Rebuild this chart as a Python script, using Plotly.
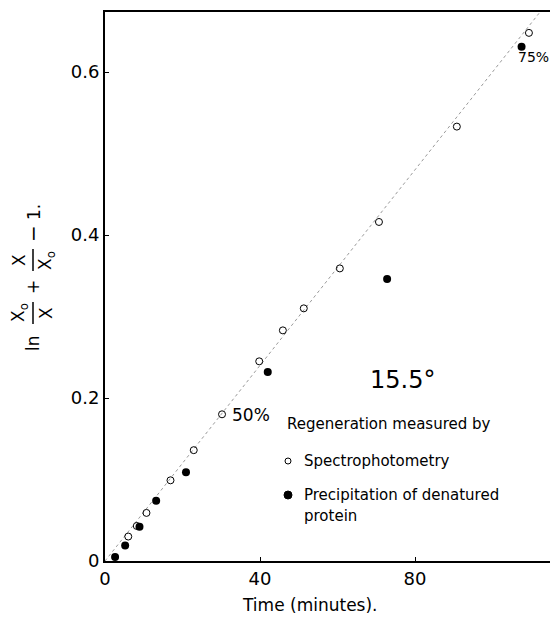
import plotly.graph_objects as go

# ---- data ----
spec_t = [6.0, 8.2, 10.7, 16.9, 22.9, 30.2, 39.8, 45.9, 51.3, 60.6, 70.7, 90.8, 109.4]
spec_y = [0.030, 0.043, 0.059, 0.099, 0.136, 0.180, 0.245, 0.283, 0.310, 0.359, 0.416, 0.533, 0.648]

precip_t = [2.6, 5.2, 8.9, 13.2, 20.9, 42.0, 72.8, 107.5]
precip_y = [0.005, 0.019, 0.042, 0.074, 0.109, 0.232, 0.346, 0.631]

line_t = [0, 112]
line_y = [0, 0.672]

x_ticks = [0, 40, 80]
x_tick_labels = ["0", "40", "80"]
y_ticks = [0, 0.2, 0.4, 0.6]
y_tick_labels = ["0", "0.2", "0.4", "0.6"]

FONT = "DejaVu Sans"

# plot-area geometry in pixels (for paper-coordinate text placement)
L, R, T, B = 105, 550, 12, 561
W, H = 550, 620


def px(x):
    return (x - L) / (R - L)


def py(y):
    return (B - y) / (B - T)


fig = go.Figure()
fig.add_trace(go.Scatter(x=line_t, y=line_y, mode="lines",
                         line=dict(color="#9a9a9a", width=1, dash="dot"),
                         showlegend=False, hoverinfo="skip"))
fig.add_trace(go.Scatter(x=spec_t, y=spec_y, mode="markers", name="Spectrophotometry",
                         marker=dict(symbol="circle-open", size=7, color="black",
                                     line=dict(width=1, color="black")),
                         showlegend=False))
fig.add_trace(go.Scatter(x=precip_t, y=precip_y, mode="markers",
                         name="Precipitation of denatured protein",
                         marker=dict(symbol="circle", size=8, color="black"),
                         showlegend=False))

ann = []


def text(x, y, s, size=16, xanchor="left", angle=0):
    ann.append(dict(x=px(x), y=py(y), xref="paper", yref="paper", text=s,
                    showarrow=False, xanchor=xanchor, yanchor="middle",
                    textangle=angle, font=dict(family=FONT, size=size, color="black")))


text(368, 380, "15.5°", size=24)
text(230, 415, "50%", size=17)
text(516, 57, "75%", size=14)
text(285, 424, "Regeneration measured by", size=15)
text(302, 461, "Spectrophotometry", size=15)
text(302, 495, "Precipitation of denatured", size=15)
text(302, 516, "protein", size=15)
text(310, 605, "Time (minutes).", size=17, xanchor="center")

# rotated y-axis label: ln X0/X + X/X0 - 1.
text(33, 343, "ln", size=17, xanchor="center", angle=-90)
text(19, 313, "X<sub>o</sub>", size=17, xanchor="center", angle=-90)
text(46, 313, "X", size=17, xanchor="center", angle=-90)
text(33, 287, "+", size=17, xanchor="center", angle=-90)
text(19, 260, "X", size=17, xanchor="center", angle=-90)
text(46, 260, "X<sub>o</sub>", size=17, xanchor="center", angle=-90)
text(33, 234, "−", size=20, xanchor="center", angle=-90)
text(34, 212, "1.", size=17, xanchor="center", angle=-90)

shapes = []
for yc in (313, 260):
    shapes.append(dict(type="line", xref="paper", yref="paper",
                       x0=px(33), x1=px(33), y0=py(yc - 11), y1=py(yc + 11),
                       line=dict(color="black", width=1.5)))

# legend symbols
shapes.append(dict(type="circle", xref="paper", yref="paper",
                   x0=px(285), x1=px(291), y0=py(458), y1=py(464),
                   line=dict(color="black", width=1), fillcolor="white"))
shapes.append(dict(type="circle", xref="paper", yref="paper",
                   x0=px(284), x1=px(292), y0=py(491), y1=py(499),
                   line=dict(color="black", width=1), fillcolor="black"))

fig.update_layout(
    width=W, height=H,
    margin=dict(l=L, r=W - R, t=T, b=H - B),
    paper_bgcolor="white", plot_bgcolor="white",
    annotations=ann, shapes=shapes,
    font=dict(family=FONT, color="black"),
    xaxis=dict(range=[0, (R - L) / 3.875], tickvals=x_ticks, ticktext=x_tick_labels,
               showgrid=False, zeroline=False, showline=True, linecolor="black",
               linewidth=2, mirror=True, ticks="inside", ticklen=4, tickcolor="black",
               tickfont=dict(family=FONT, size=18)),
    yaxis=dict(range=[0, (B - T) / 815], tickvals=y_ticks, ticktext=y_tick_labels,
               showgrid=False, zeroline=False, showline=True, linecolor="black",
               linewidth=2, ticks="inside", ticklen=4, tickcolor="black",
               tickfont=dict(family=FONT, size=18)),
)

fig.write_html("out.html")
